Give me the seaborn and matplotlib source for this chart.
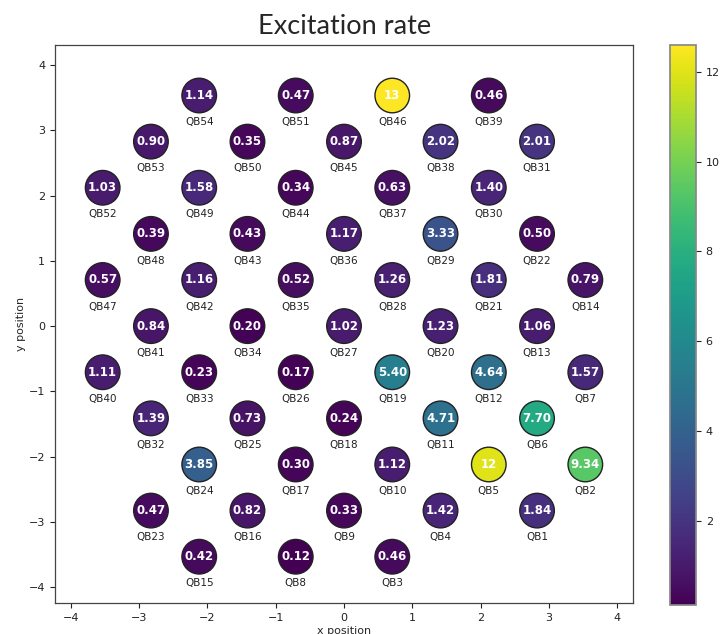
import numpy as np
import pandas as pd
import matplotlib
matplotlib.use("Agg")
import matplotlib.pyplot as plt
import seaborn as sns

# Qubit names, grid indices (in units of 1/sqrt(2)) and excitation rates
names = ["QB54", "QB51", "QB46", "QB39",
         "QB53", "QB50", "QB45", "QB38", "QB31",
         "QB52", "QB49", "QB44", "QB37", "QB30",
         "QB48", "QB43", "QB36", "QB29", "QB22",
         "QB47", "QB42", "QB35", "QB28", "QB21", "QB14",
         "QB41", "QB34", "QB27", "QB20", "QB13",
         "QB40", "QB33", "QB26", "QB19", "QB12", "QB7",
         "QB32", "QB25", "QB18", "QB11", "QB6",
         "QB24", "QB17", "QB10", "QB5", "QB2",
         "QB23", "QB16", "QB9", "QB4", "QB1",
         "QB15", "QB8", "QB3"]
col_idx = [-3, -1, 1, 3,
           -4, -2, 0, 2, 4,
           -5, -3, -1, 1, 3,
           -4, -2, 0, 2, 4,
           -5, -3, -1, 1, 3, 5,
           -4, -2, 0, 2, 4,
           -5, -3, -1, 1, 3, 5,
           -4, -2, 0, 2, 4,
           -3, -1, 1, 3, 5,
           -4, -2, 0, 2, 4,
           -3, -1, 1]
row_idx = [5, 5, 5, 5,
           4, 4, 4, 4, 4,
           3, 3, 3, 3, 3,
           2, 2, 2, 2, 2,
           1, 1, 1, 1, 1, 1,
           0, 0, 0, 0, 0,
           -1, -1, -1, -1, -1, -1,
           -2, -2, -2, -2, -2,
           -3, -3, -3, -3, -3,
           -4, -4, -4, -4, -4,
           -5, -5, -5]
rates = [1.14, 0.47, 12.6, 0.46,
         0.90, 0.35, 0.87, 2.02, 2.01,
         1.03, 1.58, 0.34, 0.63, 1.40,
         0.39, 0.43, 1.17, 3.33, 0.50,
         0.57, 1.16, 0.52, 1.26, 1.81, 0.79,
         0.84, 0.20, 1.02, 1.23, 1.06,
         1.11, 0.23, 0.17, 5.40, 4.64, 1.57,
         1.39, 0.73, 0.24, 4.71, 7.70,
         3.85, 0.30, 1.12, 12.0, 9.34,
         0.47, 0.82, 0.33, 1.42, 1.84,
         0.42, 0.12, 0.46]

step = np.sqrt(0.5)
df = pd.DataFrame({
    "name": names,
    "x": np.array(col_idx) * step,
    "y": np.array(row_idx) * step,
    "rate": rates,
})

sns.set_theme(style="ticks")
plt.rcParams["font.family"] = ["DejaVu Sans"]

fig = plt.figure(figsize=(7.23, 6.34), dpi=100)
ax = fig.add_axes([55 / 723, 31 / 634, 578 / 723, 558 / 634])
cax = fig.add_axes([670 / 723, 29 / 634, 26 / 723, 560 / 634])

vmin, vmax = df["rate"].min(), df["rate"].max()
norm = plt.Normalize(vmin, vmax)

sns.scatterplot(data=df, x="x", y="y", hue="rate", palette="viridis",
                hue_norm=norm, s=620, edgecolor="#222222", linewidth=1.0,
                legend=False, ax=ax, zorder=3)

for _, r in df.iterrows():
    lab = f"{r['rate']:.0f}" if r["rate"] >= 10 else f"{r['rate']:.2f}"
    ax.text(r["x"], r["y"], lab, ha="center", va="center", color="white",
            fontsize=8.5, fontweight="bold", zorder=4)
    ax.text(r["x"], r["y"] - 0.41, r["name"], ha="center", va="center",
            color="#222222", fontsize=7.5, zorder=4)

ax.set_xlim(-4.234, 4.234)
ax.set_ylim(-4.245, 4.31)
ax.set_xticks(range(-4, 5))
ax.set_yticks(range(-4, 5))
ax.set_xlabel("x position", fontsize=8, labelpad=2)
ax.set_ylabel("y position", fontsize=8, labelpad=2)
ax.tick_params(labelsize=8, length=3.5, width=0.8, colors="#222222")
for sp in ax.spines.values():
    sp.set_color("#444444")
    sp.set_linewidth(0.9)

sm = plt.cm.ScalarMappable(cmap="viridis", norm=norm)
cb = fig.colorbar(sm, cax=cax)
cb.set_label("Excitation rate (%)", fontsize=8, labelpad=12)
cb.ax.tick_params(labelsize=8, length=3.5, width=0.8, colors="#222222")
cb.outline.set_edgecolor("#888888")

fig.suptitle("Excitation rate", fontsize=19.5, x=345 / 723, y=0.978,
             fontfamily=["Lato", "DejaVu Sans"])

fig.savefig("out.png", dpi=100)
